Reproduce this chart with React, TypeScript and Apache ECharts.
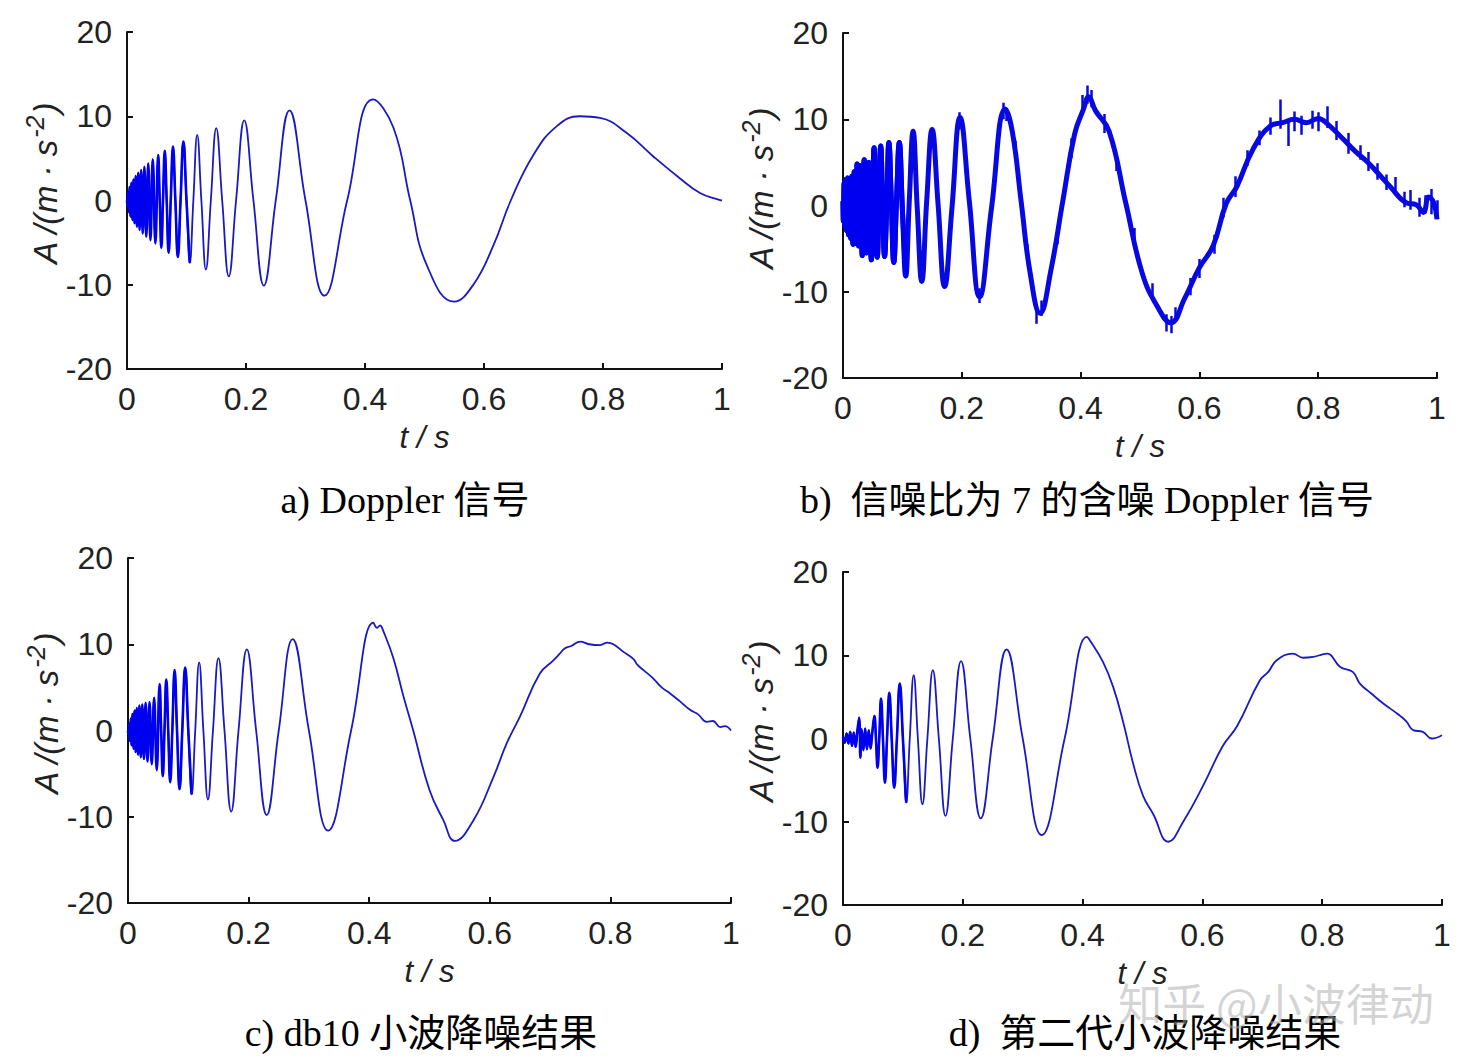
import React, { useEffect, useRef } from 'react';
import * as echarts from 'echarts';

// Axis ticks
const xMin = 0;
const xMax = 1;
const xStep = 0.2;
const yMin = -20;
const yMax = 20;
const yStep = 10;

const panelTitles = [
  'a) Doppler 信号',
  'b)  信噪比为 7 的含噪 Doppler 信号',
  'c) db10 小波降噪结果',
  'd)  第二代小波降噪结果',
];
const axisNameX = 't / s';
const watermark = '知乎 @小波律动';

// a) Doppler signal — [t, A]
const signalA = [
  [0, 0], [0.0006, -0.6], [0.0019, 1.0], [0.0032, -1.4], [0.0045, 1.6], [0.006, -1.9], [0.0075, 2.1],
  [0.0092, -2.3], [0.0109, 2.5], [0.0127, -2.7], [0.0146, 2.9], [0.0167, -3.1], [0.0189, 3.3],
  [0.0212, -3.5], [0.0237, 3.6], [0.0264, -3.9], [0.0292, 4.0], [0.0324, -4.3], [0.0357, 4.4],
  [0.0394, -4.7], [0.0433, 4.9], [0.0477, -5.1], [0.0524, 5.4],
  [0.055, 0], [0.0577, -5.6], [0.0605, 0], [0.0635, 5.9], [0.0667, 0], [0.07, -6.2], [0.0735, 0],
  [0.0773, 6.4], [0.0813, 0], [0.0855, -6.7], [0.09, 0], [0.0948, 7.0], [0.1, 0], [0.1056, -7.4],
  [0.1115, 0], [0.118, 7.8], [0.125, 0], [0.1326, -8.2], [0.1409, 0], [0.15, 8.6], [0.16, 0],
  [0.1711, -9.0], [0.1833, 0], [0.1971, 9.5], [0.2125, 0], [0.23, -10.1], [0.25, 0], [0.2731, 10.7],
  [0.3, 0], [0.3318, -11.3], [0.37, 0], [0.4135, 12.0], [0.448, 8.6], [0.476, 0], [0.504, -7.7],
  [0.55, -12.0], [0.582, -10.0], [0.616, -5.3], [0.645, 0], [0.683, 5.4], [0.722, 8.8], [0.761, 10.0],
  [0.795, 9.8], [0.84, 8.0], [0.885, 5.2], [0.929, 2.65], [0.963, 0.9], [0.994, 0.1], [1, 0],
];

// b) noisy Doppler signal (SNR 7)
const signalB = [
  [0, 0.5], [0.0006, -1.8], [0.0019, 2.6], [0.0032, -2.4], [0.0045, 3.0], [0.006, -2.9], [0.0075, 3.2],
  [0.0092, -3.4], [0.0109, 3.1], [0.0127, -3.8], [0.0146, 3.4], [0.0167, -4.5], [0.0189, 3.9],
  [0.0212, -4.4], [0.0237, 4.8], [0.0264, -4.7], [0.0292, 4.6], [0.0324, -5.8], [0.0357, 5.3],
  [0.0394, -5.5], [0.0433, 5.0], [0.0477, -6.3], [0.0524, 6.7],
  [0.055, 0.4], [0.0577, -6.0], [0.0605, -0.3], [0.0635, 6.9], [0.0667, 0.5], [0.07, -5.9], [0.0735, -0.4],
  [0.0773, 7.3], [0.0813, 0.6], [0.0855, -6.6], [0.09, 0.3], [0.0948, 7.3], [0.1, -0.5], [0.1056, -8.2],
  [0.1115, 0.4], [0.118, 8.6], [0.125, -0.3], [0.1326, -8.8], [0.1409, 0.5], [0.15, 8.8], [0.16, 0.2],
  [0.1711, -9.4], [0.1833, -0.4], [0.1971, 10.2], [0.2125, 0.6], [0.23, -10.6], [0.25, -0.3],
  [0.2731, 11.2], [0.285, 8.6], [0.3, 0.4], [0.315, -7.8], [0.3318, -12.5], [0.35, -7.5], [0.37, 0.5],
  [0.39, 8.3], [0.405, 11.2], [0.4135, 12.6], [0.425, 11.0], [0.448, 8.6], [0.476, 0.3], [0.504, -7.9],
  [0.53, -11.8], [0.552, -13.6], [0.575, -10.8], [0.6, -7.2], [0.623, -4.7], [0.645, 0.2], [0.663, 2.2],
  [0.69, 6.5], [0.719, 9.2], [0.74, 9.6], [0.76, 10.0], [0.78, 9.6], [0.8, 10.1], [0.815, 9.5],
  [0.842, 7.7], [0.862, 6.3], [0.882, 5.1], [0.9, 3.8], [0.921, 2.2], [0.949, 0.3], [0.965, 0.1],
  [0.977, -0.8], [0.986, 1.0], [0.994, 0.4], [1, -1.6],
];

// b) vertical noise strokes [t, low, high]
const spikesB = [
  [0.196, 8.8, 10.8], [0.229, -11.3, -9.6], [0.27, 10.0, 11.9], [0.275, 9.8, 11.2], [0.29, 5.5, 7.5],
  [0.31, -6.5, -4.5], [0.326, -13.7, -11.8], [0.334, -12.8, -11.0], [0.36, -4.5, -2.5], [0.385, 5.5, 7.8],
  [0.403, 10.5, 12.8], [0.412, 11.8, 13.9], [0.418, 11.4, 13.4], [0.44, 8.4, 10.6], [0.46, 4.0, 6.0],
  [0.49, -4.8, -2.6], [0.52, -11.0, -9.0], [0.545, -14.6, -12.6], [0.553, -14.8, -12.8], [0.56, -13.5, -11.8],
  [0.585, -10.4, -8.4], [0.6, -8.4, -6.2], [0.625, -5.6, -3.4], [0.64, -1.4, 0.9], [0.66, 1.0, 3.4],
  [0.68, 4.6, 6.4], [0.7, 7.0, 8.7], [0.72, 8.2, 10.2], [0.736, 8.9, 12.3], [0.749, 6.9, 9.8],
  [0.76, 8.6, 10.9], [0.772, 8.2, 10.4], [0.79, 8.9, 11.0], [0.8, 8.6, 10.8], [0.815, 9.0, 11.5],
  [0.83, 7.6, 9.8], [0.85, 6.0, 8.4], [0.87, 5.3, 7.0], [0.885, 4.0, 6.2], [0.9, 3.0, 4.9],
  [0.915, 1.8, 3.6], [0.93, 1.3, 3.3], [0.945, -0.2, 1.6], [0.955, -0.5, 1.8], [0.97, -1.3, 0.9],
  [0.98, -0.9, 1.2], [0.99, -1.0, 1.9], [1, -1.6, 0.6],
];

// c) db10 wavelet denoising result
const signalC = [
  [0, 0], [0.0006, -0.4], [0.0019, 0.8], [0.0032, -1.2], [0.0045, 1.4], [0.006, -1.7], [0.0075, 1.9],
  [0.0092, -2.1], [0.0109, 2.3], [0.0127, -2.5], [0.0146, 2.6], [0.0167, -2.8], [0.0189, 2.9],
  [0.0212, -3.1], [0.0237, 3.0], [0.0264, -3.3], [0.0292, 3.2], [0.0324, -3.6], [0.0357, 3.3],
  [0.0394, -3.9], [0.0433, 3.8], [0.0477, -4.6], [0.0524, 5.4],
  [0.055, 0], [0.0577, -5.3], [0.0605, 0], [0.0635, 5.9], [0.0667, 0], [0.07, -6.0], [0.0735, 0],
  [0.0773, 7.0], [0.0813, 0], [0.0855, -6.8], [0.09, 0], [0.0948, 7.3], [0.1, 0], [0.1056, -7.4],
  [0.1115, 0], [0.118, 7.9], [0.125, 0], [0.1326, -8.0], [0.1409, 0], [0.15, 8.4], [0.16, 0],
  [0.1711, -9.4], [0.1833, 0], [0.1971, 9.4], [0.2125, 0], [0.23, -9.8], [0.25, 0], [0.2731, 10.6],
  [0.3, 0], [0.3318, -11.6], [0.37, 0], [0.407, 12.5], [0.413, 11.9], [0.418, 12.2], [0.423, 11.6],
  [0.44, 8.4], [0.457, 3.9], [0.473, 0], [0.5, -6.9], [0.523, -10.4], [0.542, -12.8], [0.573, -10.4],
  [0.606, -5.4], [0.628, -1.5], [0.65, 1.6], [0.683, 6.6], [0.705, 8.1], [0.716, 8.9], [0.724, 9.5],
  [0.735, 9.8], [0.75, 10.3], [0.765, 10.0], [0.783, 9.9], [0.795, 10.2], [0.805, 10.0], [0.82, 9.2],
  [0.838, 8.3], [0.845, 7.6], [0.855, 7.0], [0.87, 6.1], [0.885, 5.0], [0.899, 4.3], [0.915, 3.4],
  [0.932, 2.4], [0.945, 1.9], [0.96, 1.0], [0.97, 1.1], [0.982, 0.4], [0.99, 0.5], [1, 0],
];

// d) second-generation wavelet denoising result
const signalD = [
  [0, 0.2], [0.003, -0.5], [0.006, 0.6], [0.009, -0.6], [0.012, 0.8], [0.015, -0.9], [0.018, 0.7],
  [0.021, -1.0], [0.024, 0.9], [0.027, 2.5], [0.029, -2.3], [0.031, 1.1], [0.034, -1.4], [0.037, 1.2],
  [0.04, -1.3], [0.043, 1.0], [0.046, -1.2], [0.049, 0.8], [0.0524, 2.7],
  [0.055, 0], [0.0577, -3.5], [0.0605, 0], [0.0635, 4.8], [0.0667, 0], [0.07, -5.3], [0.0735, 0],
  [0.0773, 5.5], [0.0813, 0], [0.0855, -5.9], [0.09, 0], [0.0948, 6.6], [0.1, 0], [0.1056, -7.7],
  [0.1115, 0], [0.118, 7.6], [0.125, 0], [0.1326, -7.9], [0.1409, 0], [0.15, 8.2], [0.16, 0],
  [0.1711, -9.3], [0.1833, 0], [0.1971, 9.3], [0.2125, 0], [0.23, -9.6], [0.25, 0], [0.2731, 10.7],
  [0.3, 0], [0.3318, -11.6], [0.37, 0], [0.407, 12.2], [0.412, 11.8], [0.434, 9.2], [0.451, 6.2],
  [0.468, 1.9], [0.484, -2.9], [0.501, -6.9], [0.518, -9.1], [0.543, -12.4], [0.568, -10.0],
  [0.601, -5.7], [0.634, -0.9], [0.658, 1.5], [0.696, 7.0], [0.71, 8.0], [0.724, 9.4], [0.751, 10.2],
  [0.768, 9.7], [0.785, 9.8], [0.796, 10.0], [0.808, 10.2], [0.83, 8.6], [0.851, 8.0], [0.863, 6.6],
  [0.882, 5.4], [0.902, 4.2], [0.925, 3.0], [0.94, 2.1], [0.952, 1.0], [0.968, 0.8], [0.983, 0], [1, 0.4],
];

const signals = [signalA, signalB, signalC, signalD];
// end of the densely oscillating stretch drawn with a heavier stroke
const denseEnd = [0.11, 0.11, 0.11, 0.11];

// layout (pixels)
const grids = [
  { left: 127, top: 32, width: 595, height: 337 },
  { left: 843, top: 33, width: 594, height: 345 },
  { left: 128, top: 558, width: 603, height: 345 },
  { left: 843, top: 572, width: 599, height: 333 },
];
const titlePos = [
  [405, 500],
  [1087, 500],
  [421, 1033],
  [1145, 1033],
];

const sansFont = '"Liberation Sans", Arial, sans-serif';
const serifFont = '"Liberation Serif", "Times New Roman", "Noto Sans CJK SC", serif';
const lineColor = '#1a1ac0';
const denseColor = '#0000f0';
const axisColor = '#111';
const textColor = '#222';

export default function App() {
  const ref = useRef<HTMLDivElement>(null);

  useEffect(() => {
    if (!ref.current) return;
    const chart = echarts.init(ref.current, null, { renderer: 'svg' });

    const xAxes = grids.map((_, i) => ({
      type: 'value',
      gridIndex: i,
      min: xMin,
      max: xMax,
      interval: xStep,
      name: axisNameX,
      nameLocation: 'middle',
      nameGap: 53,
      nameTextStyle: { fontFamily: sansFont, fontStyle: 'italic', fontSize: 31, color: textColor },
      axisLine: { onZero: false, lineStyle: { color: axisColor, width: 2 } },
      axisTick: { inside: true, length: 6, lineStyle: { color: axisColor, width: 2 } },
      axisLabel: {
        margin: 14,
        fontFamily: sansFont,
        fontSize: 32,
        color: textColor,
        formatter: (v: number) => String(Math.round(v * 10) / 10),
      },
      splitLine: { show: false },
    }));

    const yAxes = grids.map((_, i) => ({
      type: 'value',
      gridIndex: i,
      min: yMin,
      max: yMax,
      interval: yStep,
      name: '{n|A /(}{n|m · s}{s|-2}{n|)}',
      nameLocation: 'middle',
      nameRotate: 90,
      nameGap: 58,
      nameTextStyle: {
        fontFamily: sansFont,
        fontStyle: 'italic',
        fontSize: 32,
        color: textColor,
        padding: [0, 0, 0, 34],
        rich: {
          n: { fontFamily: sansFont, fontStyle: 'italic', fontSize: 33, color: textColor },
          s: { fontFamily: sansFont, fontStyle: 'italic', fontSize: 25, color: textColor, padding: [0, 2, 20, 2] },
        },
      },
      axisLine: { onZero: false, lineStyle: { color: axisColor, width: 2 } },
      axisTick: { inside: true, length: 6, lineStyle: { color: axisColor, width: 2 } },
      axisLabel: { margin: 15, fontFamily: sansFont, fontSize: 32, color: textColor },
      splitLine: { show: false },
    }));

    const series: any[] = [];
    signals.forEach((data, i) => {
      series.push({
        type: 'line',
        xAxisIndex: i,
        yAxisIndex: i,
        data,
        showSymbol: false,
        smooth: 0.45,
        lineStyle: { color: i === 1 ? '#0808e0' : lineColor, width: i === 1 ? 5 : 1.8 },
        silent: true,
      });
      series.push({
        type: 'line',
        xAxisIndex: i,
        yAxisIndex: i,
        data: data.filter(([t]) => t <= denseEnd[i]),
        showSymbol: false,
        smooth: 0.45,
        lineStyle: { color: denseColor, width: i === 1 ? 5 : 2.6 },
        silent: true,
      });
    });
    series.push({
      type: 'lines',
      coordinateSystem: 'cartesian2d',
      xAxisIndex: 1,
      yAxisIndex: 1,
      data: spikesB.map(([t, lo, hi]) => ({ coords: [[t, lo], [t, hi]] })),
      lineStyle: { color: '#0808e0', width: 2.5, opacity: 1 },
      silent: true,
    });

    const graphic: any[] = panelTitles.map((text, i) => ({
      type: 'text',
      x: titlePos[i][0],
      y: titlePos[i][1],
      style: {
        text,
        fontSize: 38,
        fontFamily: serifFont,
        fill: '#000',
        align: 'center',
        verticalAlign: 'middle',
      },
    }));
    graphic.push({
      type: 'text',
      x: 1276,
      y: 1002,
      style: {
        text: watermark,
        fontSize: 44,
        fontFamily: '"Noto Sans CJK SC", sans-serif',
        fill: 'rgba(170,170,170,0.5)',
        align: 'center',
        verticalAlign: 'middle',
      },
      z: 100,
    });

    chart.setOption({
      animation: false,
      backgroundColor: '#ffffff',
      grid: grids.map((g) => ({ ...g, containLabel: false })),
      xAxis: xAxes,
      yAxis: yAxes,
      series,
      graphic,
    });

    return () => chart.dispose();
  }, []);

  return (
    <div
      ref={ref}
      style={{ position: 'fixed', left: 0, top: 0, width: 1472, height: 1062, background: '#fff' }}
    />
  );
}
